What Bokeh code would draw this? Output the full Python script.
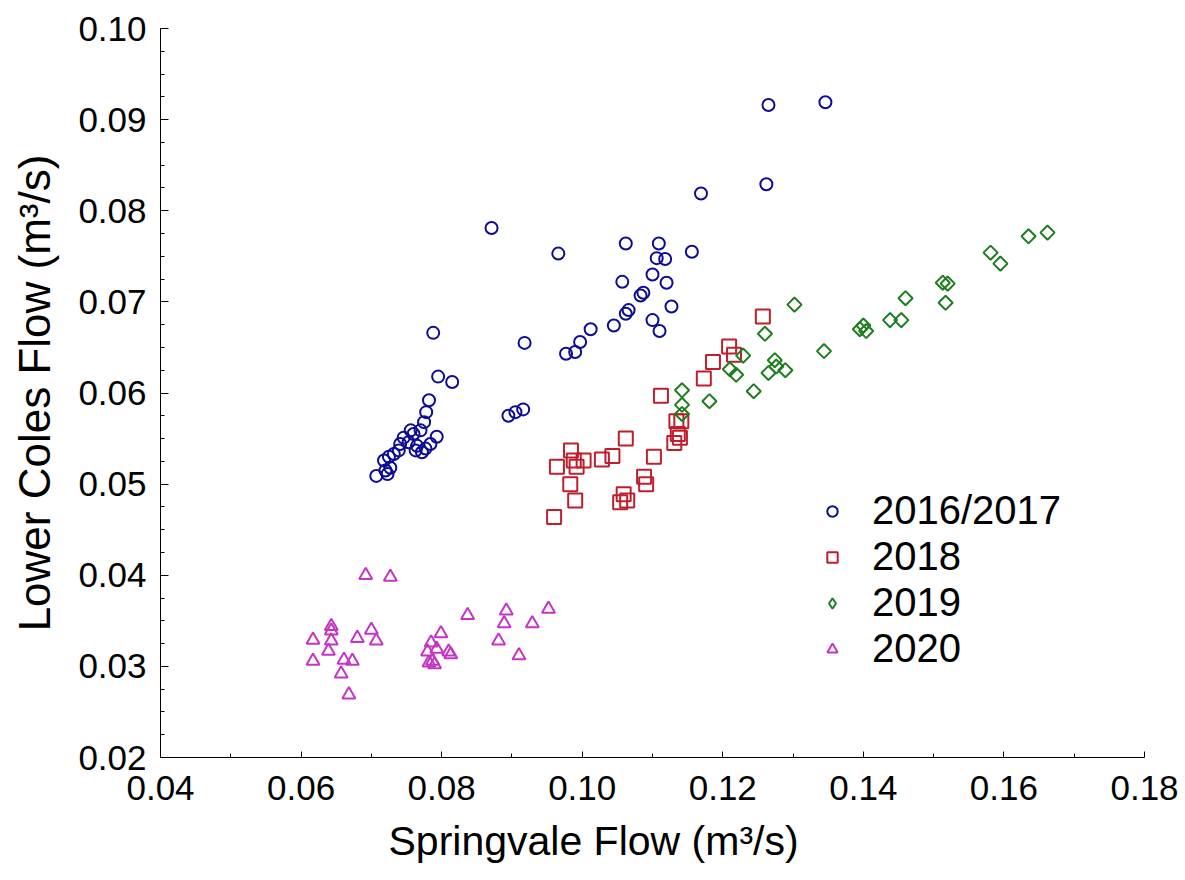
import math
from bokeh.plotting import figure
from bokeh.models import (FixedTicker, PrintfTickFormatter, Legend, LegendItem, Range1d, Title)
from bokeh.embed import file_html
from bokeh.resources import INLINE

# ---- data ----
labels = ["2016/2017", "2018", "2019", "2020"]

x_1617 = [0.0707, 0.0723, 0.0720, 0.0727, 0.0718, 0.0725, 0.0732, 0.0739, 0.0741, 0.0746,
          0.0753, 0.0756, 0.0760, 0.0765, 0.0763, 0.0772, 0.0777, 0.0770, 0.0775, 0.0778,
          0.0782, 0.0784, 0.0793, 0.0795, 0.0815, 0.0788, 0.0871, 0.0895, 0.0905, 0.0916,
          0.0918, 0.0966, 0.0977, 0.0990, 0.0997, 0.1012, 0.1045, 0.1062, 0.1066, 0.1057,
          0.1062, 0.1083, 0.1087, 0.1100, 0.1100, 0.1110, 0.1106, 0.1109, 0.1118, 0.1120,
          0.1127, 0.1156, 0.1169, 0.1262, 0.1265, 0.1346]
y_1617 = [0.0509, 0.0511, 0.0515, 0.0518, 0.0526, 0.0530, 0.0533, 0.0537, 0.0544, 0.0551,
          0.0546, 0.0559, 0.0555, 0.0542, 0.0537, 0.0535, 0.0539, 0.0559, 0.0568, 0.0579,
          0.0592, 0.0544, 0.0552, 0.0618, 0.0612, 0.0666, 0.0781, 0.0575, 0.0579, 0.0582,
          0.0655, 0.0753, 0.0643, 0.0645, 0.0656, 0.0670, 0.0674, 0.0687, 0.0691, 0.0722,
          0.0764, 0.0707, 0.0710, 0.0730, 0.0680, 0.0668, 0.0748, 0.0764, 0.0747, 0.0721,
          0.0695, 0.0755, 0.0819, 0.0829, 0.0916, 0.0919]

x_2018 = [0.0960, 0.0964, 0.0983, 0.0990, 0.0984, 0.0988, 0.0992, 0.1002, 0.1028, 0.1043,
          0.1054, 0.1059, 0.1064, 0.1062, 0.1088, 0.1091, 0.1102, 0.1112, 0.1131, 0.1136,
          0.1139, 0.1134, 0.1141, 0.1173, 0.1186, 0.1209, 0.1216, 0.1257]
y_2018 = [0.0464, 0.0519, 0.0500, 0.0482, 0.0537, 0.0526, 0.0519, 0.0526, 0.0527, 0.0531,
          0.0480, 0.0489, 0.0482, 0.0550, 0.0508, 0.0500, 0.0530, 0.0597, 0.0545, 0.0555,
          0.0551, 0.0569, 0.0569, 0.0616, 0.0634, 0.0651, 0.0642, 0.0684]

x_2019 = [0.1142, 0.1142, 0.1142, 0.1181, 0.1210, 0.1219, 0.1229, 0.1244, 0.1260, 0.1265,
          0.1274, 0.1276, 0.1289, 0.1302, 0.1344, 0.1395, 0.1400, 0.1404, 0.1438, 0.1454,
          0.1460, 0.1513, 0.1520, 0.1517, 0.1581, 0.1595, 0.1635, 0.1662]
y_2019 = [0.0603, 0.0587, 0.0577, 0.0591, 0.0626, 0.0620, 0.0641, 0.0602, 0.0665, 0.0622,
          0.0636, 0.0629, 0.0625, 0.0697, 0.0646, 0.0670, 0.0674, 0.0668, 0.0680, 0.0680,
          0.0704, 0.0721, 0.0720, 0.0699, 0.0754, 0.0742, 0.0772, 0.0776]

x_2020 = [0.0692, 0.0727, 0.0837, 0.0892, 0.0889, 0.0952, 0.0929, 0.0881, 0.0910, 0.0643,
          0.0643, 0.0617, 0.0643, 0.0639, 0.0617, 0.0680, 0.0700, 0.0707, 0.0661, 0.0673,
          0.0657, 0.0668, 0.0799, 0.0785, 0.0780, 0.0793, 0.0810, 0.0813, 0.0787, 0.0790,
          0.0782]
y_2020 = [0.0400, 0.0398, 0.0356, 0.0361, 0.0347, 0.0363, 0.0347, 0.0328, 0.0312, 0.0344,
          0.0339, 0.0329, 0.0328, 0.0317, 0.0306, 0.0331, 0.0340, 0.0328, 0.0307, 0.0306,
          0.0292, 0.0269, 0.0336, 0.0326, 0.0316, 0.0319, 0.0316, 0.0313, 0.0306, 0.0302,
          0.0304]

x_ticks = [0.04, 0.06, 0.08, 0.10, 0.12, 0.14, 0.16, 0.18]
y_ticks = [0.02, 0.03, 0.04, 0.05, 0.06, 0.07, 0.08, 0.09, 0.10]
x_minor = [0.05, 0.07, 0.09, 0.11, 0.13, 0.15, 0.17]
y_minor = [0.02 + 0.0025 * i for i in range(33)]

x_title = "Springvale Flow (m³/s)"
y_title = "Lower Coles Flow (m³/s)"

FONT = "Liberation Sans"
BLUE, RED, GREEN, MAGENTA = "#0c0c96", "#bf1f2d", "#1e7d1e", "#c535c5"

p = figure(width=1185, height=880, output_backend="svg", toolbar_location=None,
           x_range=Range1d(0.04, 0.18), y_range=Range1d(0.02, 0.10),
           min_border_left=160, min_border_right=41, min_border_top=28, min_border_bottom=123)
p.outline_line_color = None
p.xgrid.grid_line_color = None
p.ygrid.grid_line_color = None
p.background_fill_color = "white"
p.border_fill_color = "white"
# an off-screen range used only so that the legend can show an upright diamond
p.extra_x_ranges = {"legend_only": Range1d(10, 11)}

r1 = p.scatter(x_1617, y_1617, marker="circle", size=12, fill_color=None,
               line_color=BLUE, line_width=2)
r2 = p.scatter(x_2018, y_2018, marker="square", size=14, fill_color=None,
               line_color=RED, line_width=2)
r3 = p.scatter(x_2019, y_2019, marker="square", size=10, angle=math.pi / 4, fill_color=None,
               line_color=GREEN, line_width=2)
r4 = p.scatter(x_2020, y_2020, marker="triangle", size=13, fill_color=None,
               line_color=MAGENTA, line_width=2)
r3_leg = p.scatter(x_2019, y_2019, marker="diamond", size=12, fill_color=None,
                   line_color=GREEN, line_width=2, x_range_name="legend_only")

for ax, ticks, minor in ((p.xaxis, x_ticks, x_minor), (p.yaxis, y_ticks, y_minor)):
    ax.ticker = FixedTicker(ticks=ticks, minor_ticks=minor)
    ax.formatter = PrintfTickFormatter(format="%.2f")
    ax.major_label_text_font = FONT
    ax.major_label_text_font_size = "35px"
    ax.major_label_text_color = "black"
    ax.axis_label_text_font = FONT
    ax.axis_label_text_font_style = "normal"
    ax.axis_label_text_color = "black"
    ax.axis_line_color = "black"
    ax.axis_line_width = 1
    ax.major_tick_out = 0
    ax.minor_tick_out = 0
    ax.major_tick_line_color = "black"
    ax.minor_tick_line_color = "black"

p.xaxis.major_tick_in = 6
p.xaxis.minor_tick_in = 4
p.yaxis.major_tick_in = 8
p.yaxis.minor_tick_in = 4
p.yaxis.axis_label = y_title
p.yaxis.axis_label_text_font_size = "44px"
p.xaxis.major_label_standoff = 18
p.yaxis.major_label_standoff = 14
p.yaxis.axis_label_standoff = 16

xt = Title(text=x_title, align="left", offset=228, text_font=FONT, text_font_size="41px",
           text_font_style="normal", text_color="black", standoff=27)
p.add_layout(xt, "below")

legend = Legend(items=[LegendItem(label=labels[0], renderers=[r1]),
                       LegendItem(label=labels[1], renderers=[r2]),
                       LegendItem(label=labels[2], renderers=[r3_leg]),
                       LegendItem(label=labels[3], renderers=[r4])],
                location=(659, 86))
legend.label_text_font = FONT
legend.label_text_font_size = "40px"
legend.label_text_color = "black"
legend.glyph_width = 26
legend.glyph_height = 26
legend.label_standoff = 27
legend.spacing = 1
legend.padding = 0
legend.margin = 0
legend.border_line_color = None
legend.background_fill_alpha = 0
p.add_layout(legend, "center")

open("out.html", "w").write(file_html(p, INLINE))
